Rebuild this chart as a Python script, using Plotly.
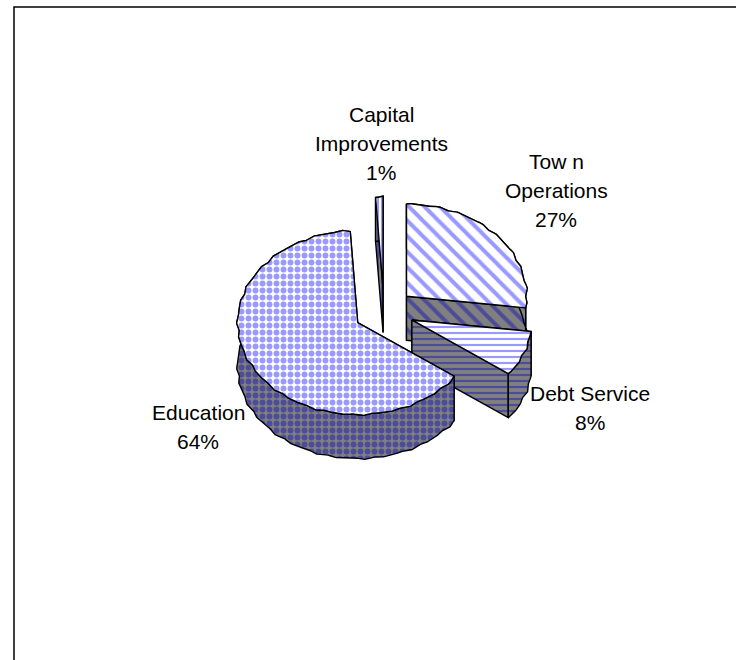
import numpy as np
import plotly.graph_objects as go

# Budget shares, in percent, clockwise from twelve o'clock
categories = ["Town Operations", "Debt Service", "Education", "Capital Improvements"]
shares = [27, 8, 64, 1]
label_lines = [["Tow n", "Operations"], ["Debt Service"], ["Education"], ["Capital", "Improvements"]]
pull = [0.25, 0.25, 0.25, 0.25]
patterns = ["\\", "-", ".", "|"]
pattern_sizes = [11, 6, 7, 4]
pattern_solidity = [0.36, 0.36, 0.55, 0.5]

# Pie geometry in page pixels
CX, CY = 384, 311.5
RX, RY = 120, 92
DEPTH = 44
# The frame runs off the right and bottom of the page
FRAME = (14, 7, 760, 720)

# Label anchors: the first line's centre and the line pitch
label_anchor = {
    "Town Operations": (556, 161),
    "Debt Service": (590, 393),
    "Education": (198, 412),
    "Capital Improvements": (381, 114),
}
LINE_PITCH = 29

TOP_FG, TOP_BG = "#9999ff", "#ffffff"
SIDE_FG, SIDE_BG = "#4c4c99", "#808080"
EDGE = "#000000"


def rim(cx, cy, a0, a1):
    """Points along the slightly uneven outer rim between two clockwise angles."""
    t = np.radians(np.linspace(a0, a1, max(int((a1 - a0) * 2), 6)))
    wob = 1 + 0.006 * np.sin(31 * t) + 0.004 * np.sin(47 * t + 1)
    return cx + RX * wob * np.sin(t), cy - RY * wob * np.cos(t)


def patch(fig, x, y, shape, fg, bg, size, solidity):
    fig.add_trace(go.Scatter(
        x=np.append(x, x[0]), y=np.append(y, y[0]), mode="lines", fill="toself",
        line=dict(color=EDGE, width=1.4),
        fillcolor=bg,
        fillpattern=dict(shape=shape, fgcolor=fg, bgcolor=bg, fgopacity=1,
                         size=size, solidity=solidity),
        hoverinfo="skip", showlegend=False,
    ))


fig = go.Figure()

starts = np.cumsum([0] + shares[:-1]) * 3.6
slices = list(zip(categories, shares, starts, pull, patterns, pattern_sizes, pattern_solidity))

# Painted back to front so the large front slice overlaps its neighbours
for name in ["Capital Improvements", "Town Operations", "Debt Service", "Education"]:
    _, share, a0, p, shape, size, solidity = next(s for s in slices if s[0] == name)
    a1 = a0 + share * 3.6
    mid = np.radians((a0 + a1) / 2)
    cx = CX + p * RX * np.sin(mid)
    cy = CY - p * RY * np.cos(mid)

    ax, ay = rim(cx, cy, a0, a1)

    # Two cut faces, extruded downward
    for ex, ey in ((ax[0], ay[0]), (ax[-1], ay[-1])):
        patch(fig, np.array([cx, ex, ex, cx]), np.array([cy, ey, ey + DEPTH, cy + DEPTH]),
              shape, SIDE_FG, SIDE_BG, size, solidity)

    # Outer wall
    patch(fig, np.concatenate([ax, ax[::-1]]), np.concatenate([ay, ay[::-1] + DEPTH]),
          shape, SIDE_FG, SIDE_BG, size, solidity)

    # Top surface
    patch(fig, np.concatenate([[cx], ax]), np.concatenate([[cy], ay]),
          shape, TOP_FG, TOP_BG, size, solidity)

# Category and percentage labels
annotations = []
for name, lines, share in zip(categories, label_lines, shares):
    lx, ly = label_anchor[name]
    for i, text in enumerate(lines + [f"{share}%"]):
        annotations.append(dict(
            x=lx, y=ly + i * LINE_PITCH, xref="x", yref="y", text=text, showarrow=False,
            xanchor="center", yanchor="middle",
            font=dict(family="Liberation Sans, Arial, sans-serif", size=21, color="#000000"),
        ))

fig.update_layout(
    width=736, height=660, margin=dict(l=0, r=0, t=0, b=0),
    paper_bgcolor="#ffffff", plot_bgcolor="#ffffff", showlegend=False,
    xaxis=dict(range=[0, 736], visible=False, fixedrange=True),
    yaxis=dict(range=[660, 0], visible=False, fixedrange=True),
    annotations=annotations,
    shapes=[dict(type="rect", xref="x", yref="y", x0=FRAME[0], y0=FRAME[1], x1=FRAME[2], y1=FRAME[3],
                 line=dict(color="#000000", width=1.5), layer="below")],
)

fig.write_html("out.html")
